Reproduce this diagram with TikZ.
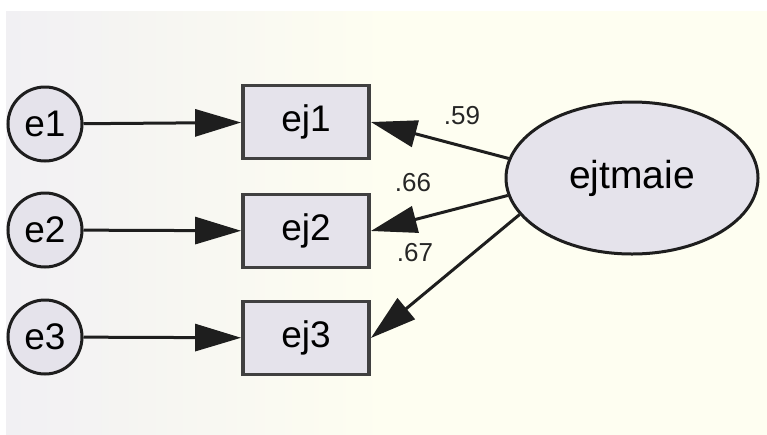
\documentclass[tikz,border=0pt]{standalone}
\usepackage{fontspec}
\setmainfont{Liberation Sans}
\usetikzlibrary{shapes.geometric,arrows.meta}
\definecolor{nodefill}{HTML}{E5E3EB}
\definecolor{edgecol}{HTML}{1E1E1E}
\definecolor{bgleft}{HTML}{F1F0F3}
\definecolor{bgright}{HTML}{FEFEF1}
\tikzset{
  errnode/.style={circle,draw=edgecol,line width=3pt,fill=nodefill,minimum size=74pt,inner sep=0pt,font=\fontsize{37}{40}\selectfont},
  obsbox/.style={rectangle,draw=edgecol!85,line width=3.8pt,fill=nodefill,minimum width=126pt,minimum height=73pt,inner sep=0pt,font=\fontsize{37}{40}\selectfont},
  latnode/.style={ellipse,draw=edgecol,line width=3pt,fill=nodefill,minimum width=252pt,minimum height=152pt,inner sep=0pt,font=\fontsize{39}{42}\selectfont},
  path/.style={draw=edgecol,line width=3pt,-{Triangle[length=46pt,width=27pt]}},
  wlabel/.style={font=\fontsize{26}{28}\selectfont,text=black!85,inner sep=0pt}
}
\begin{document}
\begin{tikzpicture}[x=1pt,y=-1pt]
\useasboundingbox (0,0) rectangle (767,434);
\fill[white] (0,0) rectangle (767,434);
\shade[left color=bgleft,right color=bgright,middle color=bgright] (6,11) rectangle (767,434);
\node[errnode] (e1) at (45,124) {e1};
\node[errnode] (e2) at (45,230) {e2};
\node[errnode] (e3) at (45,337) {e3};
\node[obsbox] (ej1) at (306,122) {ej1};
\node[obsbox] (ej2) at (306,231) {ej2};
\node[obsbox] (ej3) at (306,338) {ej3};
\node[latnode] (F) at (632,178) {ejtmaie};
\draw[path] (e1) -- (ej1);
\draw[path] (e2) -- (ej2);
\draw[path] (e3) -- (ej3);
\draw[path] (F.171) -- (ej1.east);
\draw[path] (F.188) -- (ej2.east);
\draw[path] (F.198) -- (ej3.east);
\node[wlabel] (l1) at (462,116) {.59};
\node[wlabel] (l2) at (413,183) {.66};
\node[wlabel] (l3) at (415,253) {.67};
\end{tikzpicture}
\end{document}
